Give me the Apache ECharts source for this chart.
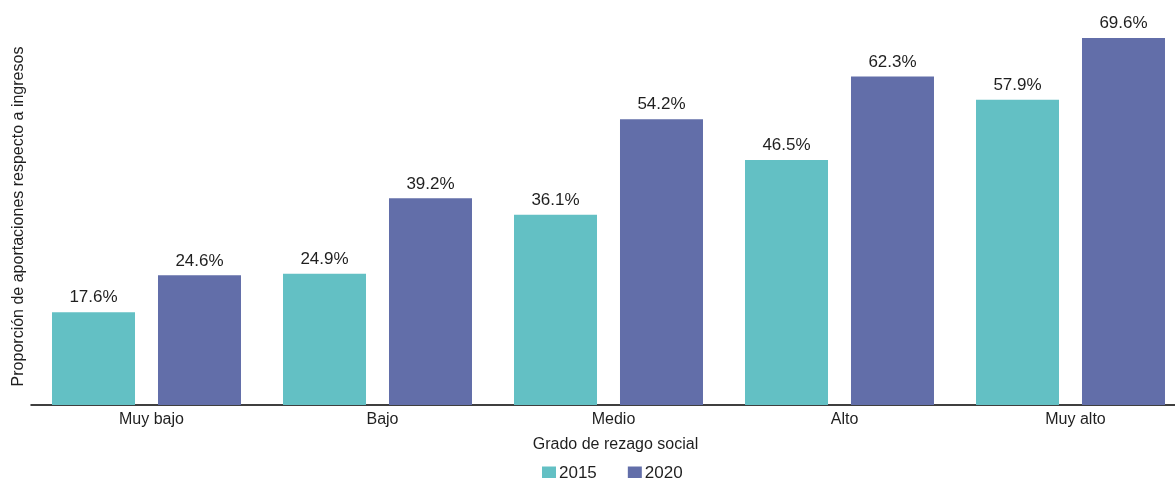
<!DOCTYPE html>
<html>
<head>
<meta charset="utf-8">
<script src="https://cdn.jsdelivr.net/npm/echarts@6/dist/echarts.min.js"></script>
<style>
  html, body { margin: 0; padding: 0; background: #ffffff; overflow: hidden; width: 1175px; height: 478px; }
  /* the plot area runs a little past the right edge of the page */
  #chart { width: 1186px; height: 478px; }
</style>
</head>
<body>
<div id="chart"></div>
<script>
// Grado de rezago social por municipio
const categories = ['Muy bajo', 'Bajo', 'Medio', 'Alto', 'Muy alto'];
const years = ['2015', '2020'];
const values2015 = [17.6, 24.9, 36.1, 46.5, 57.9];
const values2020 = [24.6, 39.2, 54.2, 62.3, 69.6];

const FONT = '"Liberation Sans", Arial, sans-serif';
const TEXT = '#1f1f1f';
const colors = ['#63c0c4', '#626ea9'];

const chart = echarts.init(document.getElementById('chart'), null, { renderer: 'canvas' });

const labelOpt = {
  show: true,
  position: 'top',
  distance: 6,
  color: TEXT,
  fontFamily: FONT,
  fontSize: 17,
  formatter: p => p.value.toFixed(1) + '%'
};

chart.setOption({
  animation: false,
  backgroundColor: '#ffffff',
  textStyle: { fontFamily: FONT },
  color: colors,
  grid: { left: 31, right: 0, top: 36, bottom: 73, containLabel: false },
  legend: {
    data: years,
    top: 460,
    left: 537,
    itemWidth: 14,
    itemHeight: 14,
    itemGap: 31,
    icon: 'rect',
    textStyle: { color: TEXT, fontSize: 17, fontFamily: FONT, padding: [0, 0, 0, -2] }
  },
  xAxis: {
    type: 'category',
    data: categories,
    name: 'Grado de rezago social',
    nameLocation: 'middle',
    nameGap: 32,
    nameTextStyle: { color: TEXT, fontSize: 16, fontFamily: FONT, padding: [0, 0, 0, 14] },
    axisLine: { show: true, lineStyle: { color: '#000000', width: 1.5 } },
    axisTick: { show: false },
    axisLabel: { color: TEXT, fontSize: 16, fontFamily: FONT, margin: 7, padding: [0, 0, 0, 10] }
  },
  yAxis: {
    type: 'value',
    min: 0,
    max: 70,
    name: 'Proporción de aportaciones respecto a ingresos',
    nameLocation: 'middle',
    nameGap: 4,
    nameTextStyle: { color: TEXT, fontSize: 16, fontFamily: FONT, padding: [0, 0, 0, 8] },
    axisLine: { show: false },
    axisTick: { show: false },
    axisLabel: { show: false },
    splitLine: { show: false }
  },
  series: [
    {
      name: years[0],
      type: 'bar',
      data: values2015,
      barWidth: 83,
      barGap: '27.7%',
      itemStyle: { color: colors[0] },
      label: labelOpt
    },
    {
      name: years[1],
      type: 'bar',
      data: values2020,
      barWidth: 83,
      barGap: '27.7%',
      itemStyle: { color: colors[1] },
      label: labelOpt
    }
  ]
});
</script>
</body>
</html>
